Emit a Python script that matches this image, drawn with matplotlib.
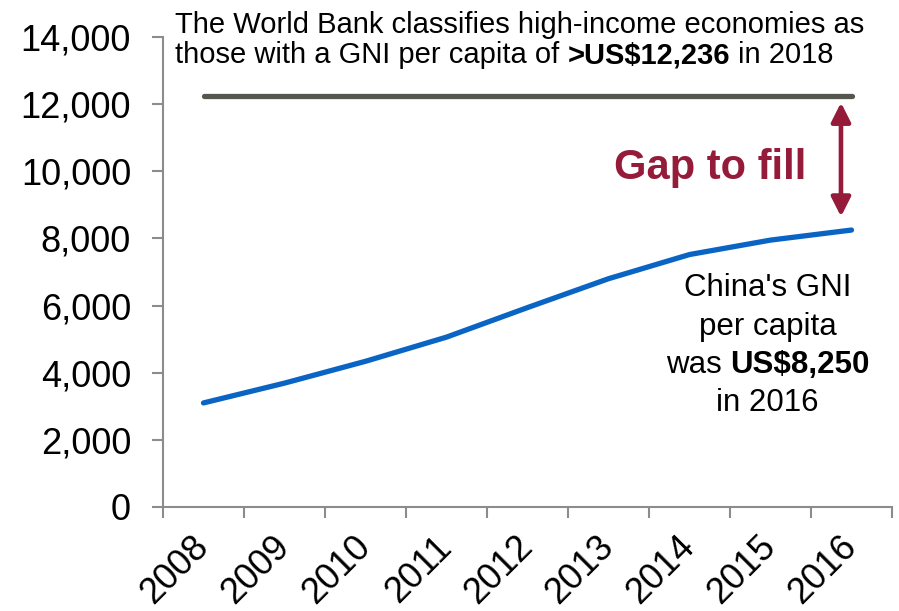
import numpy as np
import matplotlib
matplotlib.use("Agg")
import matplotlib.pyplot as plt
from matplotlib.ticker import FixedLocator, NullFormatter
from matplotlib.transforms import IdentityTransform

# ---------------- data ----------------
years = ["2008", "2009", "2010", "2011", "2012", "2013", "2014", "2015", "2016"]
gni_per_capita = [3100, 3690, 4340, 5060, 5940, 6800, 7520, 7950, 8250]
high_income_threshold = 12236
y_ticks = [0, 2000, 4000, 6000, 8000, 10000, 12000, 14000]

# ---------------- style ----------------
plt.rcParams["font.family"] = ["Liberation Sans", "DejaVu Sans"]
BLUE = "#0A64C4"
GRAY = "#55574F"
RED = "#951B3A"
AXC = "#8C8C8C"

W, H = 899, 611
fig = plt.figure(figsize=(W / 100, H / 100), dpi=100)
ax = fig.add_axes([163 / W, 1 - 507 / H, (892 - 163) / W, (507 - 37) / H])

x = np.arange(len(years))
ax.plot(x, gni_per_capita, color=BLUE, lw=3.8, solid_capstyle="round",
        solid_joinstyle="round", zorder=3, clip_on=False)
ax.plot([x[0], x[-1]], [high_income_threshold] * 2, color=GRAY, lw=3.8,
        solid_capstyle="round", zorder=3, clip_on=False)

ax.set_xlim(-0.5, len(years) - 0.5)
ax.set_ylim(y_ticks[0], y_ticks[-1])
ax.set_yticks(y_ticks)
ax.set_yticklabels([f"{v:,}" for v in y_ticks])

ax.xaxis.set_major_locator(FixedLocator(np.arange(len(years) + 1) - 0.5))
ax.xaxis.set_major_formatter(NullFormatter())
ax.xaxis.set_minor_locator(FixedLocator(x))
ax.set_xticklabels(years, minor=True)

for s in ["top", "right"]:
    ax.spines[s].set_visible(False)
for s in ["left", "bottom"]:
    ax.spines[s].set_color(AXC)
    ax.spines[s].set_linewidth(1.5)

ax.tick_params(axis="y", which="major", length=8, width=1.5, color=AXC,
               pad=15, labelsize=26)
ax.tick_params(axis="x", which="major", length=8, width=1.5, color=AXC)
ax.tick_params(axis="x", which="minor", length=0, pad=25, labelsize=26)
for lab in ax.get_xticklabels(minor=True):
    lab.set_rotation(45)
    lab.set_ha("right")
    lab.set_va("center")
    lab.set_rotation_mode("anchor")

# gap arrow
arrow_x = x[-1] - 0.13
ax.annotate("", xy=(arrow_x, gni_per_capita[-1] + 400),
            xytext=(arrow_x, high_income_threshold - 190),
            arrowprops=dict(arrowstyle="<|-|>,head_length=1.15,head_width=0.58",
                            color=RED, lw=3.3, shrinkA=0, shrinkB=0,
                            mutation_scale=10))
ax.text(x[-1] - 1.75, 9770, "Gap to fill", color=RED, fontsize=30,
        fontweight="bold", ha="center", va="baseline")

# ---------------- rich text helper (pixel coords from top-left) ----------------
renderer = fig.canvas.get_renderer()


def text_width(s, size, weight):
    t = fig.text(0, 0, s, fontsize=size, fontweight=weight)
    w = t.get_window_extent(renderer).width
    t.remove()
    return w


def rich_line(segments, x_px, y_px, size, ha="left"):
    sp = text_width("a a", size, "normal") - text_width("aa", size, "normal")
    widths = [text_width(s, size, w) for s, w in segments]
    total = sum(widths) + sp * (len(segments) - 1)
    start = x_px - total / 2 if ha == "center" else x_px
    cur = start
    for (s, w), wd in zip(segments, widths):
        fig.text(cur, H - y_px, s, fontsize=size, fontweight=w, color="black",
                 ha="left", va="baseline", transform=IdentityTransform())
        cur += wd + sp


rich_line([("The World Bank classifies high-income economies as", "normal")],
          175, 33, 21)
rich_line([("those with a GNI per capita of", "normal"),
           (f">US${high_income_threshold:,}", "bold"),
           ("in 2018", "normal")], 175, 63, 21)

cx = 767.5
rich_line([("China's GNI", "normal")], cx, 296, 22.5, ha="center")
rich_line([("per capita", "normal")], cx, 335, 22.5, ha="center")
rich_line([("was", "normal"), (f"US${gni_per_capita[-1]:,}", "bold")],
          cx, 373, 22.5, ha="center")
rich_line([(f"in {years[-1]}", "normal")], cx, 411, 22.5, ha="center")

fig.savefig("out.png", dpi=100)
